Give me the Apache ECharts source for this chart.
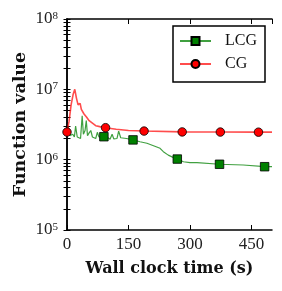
<!DOCTYPE html>
<html>
<head>
<meta charset="utf-8">
<script src="https://cdn.jsdelivr.net/npm/echarts@6/dist/echarts.min.js"></script>
<style>html,body{margin:0;padding:0;background:#fff;}#c{width:282px;height:291px;}</style>
</head>
<body>
<div id="c"></div>
<script>
// ---- data ----
const xTicks = [0, 150, 300, 450];
const yTickExponents = [5, 6, 7, 8];
const minorFactors = [2, 3, 4, 5, 6, 7, 8, 9];

const lcgTime  = [0, 3, 7, 10, 14, 18, 21, 25, 29, 33, 37, 40, 44, 47, 50, 54, 58, 62, 66, 70, 74, 78, 82, 90, 100, 105, 110, 114, 122, 126, 131, 145, 161, 178, 195, 211, 227, 235, 247, 260, 269, 284, 300, 317, 372, 430, 482, 500];
const lcgValue = [2.3e6, 2.9e6, 2.2e6, 2.1e6, 2.3e6, 2.1e6, 3.0e6, 2.1e6, 2.2e6, 2.0e6, 4.2e6, 2.3e6, 2.6e6, 3.6e6, 2.2e6, 2.4e6, 2.6e6, 2.1e6, 2.2e6, 2.0e6, 2.45e6, 2.1e6, 2.2e6, 2.12e6, 2.05e6, 1.95e6, 2.3e6, 1.98e6, 2.0e6, 2.55e6, 2.05e6, 2.0e6, 1.91e6, 1.8e6, 1.71e6, 1.58e6, 1.45e6, 1.3e6, 1.16e6, 1.07e6, 1.02e6, 9.35e5, 9.05e5, 9.05e5, 8.6e5, 8.4e5, 7.94e5, 7.94e5];
const lcgMarkerIdx = [23, 32, 40, 44, 46];

const cgTime  = [0, 5, 10, 15, 19, 23, 27, 30, 32, 35, 41.5, 48, 54, 62, 70, 80, 94, 120, 150, 188, 281, 374, 467, 500];
const cgValue = [2.47e6, 3.5e6, 6.0e6, 8.5e6, 1.0e7, 7.5e6, 6.0e6, 5.8e6, 6.3e6, 5.2e6, 4.46e6, 4.0e6, 3.58e6, 3.3e6, 3.04e6, 2.95e6, 2.85e6, 2.7e6, 2.6e6, 2.55e6, 2.48e6, 2.47e6, 2.46e6, 2.46e6];
const cgMarkerIdx = [0, 16, 19, 20, 21, 22];

// ---- build ----
function build(t, v, marks, sym) {
  return t.map((x, i) => ({ value: [x, v[i]], symbol: marks.indexOf(i) >= 0 ? sym : 'none' }));
}
const eMin = yTickExponents[0], eMax = yTickExponents[yTickExponents.length - 1];
const yMin = Math.pow(10, eMin);
const yMax = Math.pow(10, eMax);
const allTickValues = [];
yTickExponents.forEach((d, i) => {
  allTickValues.push(Math.pow(10, d));
  if (i < yTickExponents.length - 1) minorFactors.forEach(k => allTickValues.push(k * Math.pow(10, d)));
});
const allTickLogs = allTickValues.map(v => Math.log10(v));
const SERIF = 'Liberation Serif';
const axisLineStyle = { color: '#000', width: 1.5 };

const chart = echarts.init(document.getElementById('c'), null, { renderer: 'canvas' });
const xCommon = {
  type: 'value', min: 0, max: 500, interval: 150,
  splitLine: { show: false },
  axisLine: { show: true, onZero: false, lineStyle: axisLineStyle },
  axisTick: { show: true, inside: true, length: 5, lineStyle: { color: '#000', width: 1 } }
};
chart.setOption({
  animation: false,
  backgroundColor: '#fff',
  grid: { left: 67, right: 10, top: 19, bottom: 61, containLabel: false, outerBoundsMode: 'none' },
  xAxis: [
    Object.assign({}, xCommon, {
      position: 'bottom',
      name: 'Wall clock time (s)', nameLocation: 'middle', nameGap: 31, nameMoveOverlap: false,
      nameTextStyle: { fontFamily: 'DejaVu Serif', fontWeight: 'bold', fontSize: 16, color: '#111' },
      axisLabel: {
        margin: 6, fontFamily: SERIF, fontSize: 17, color: '#222', showMaxLabel: false,
        formatter: v => (xTicks.indexOf(v) >= 0 ? String(v) : '')
      }
    }),
    Object.assign({}, xCommon, { position: 'top', axisLabel: { show: false } })
  ],
  yAxis: [
    {
      type: 'log', logBase: 10, min: yMin, max: yMax, position: 'left',
      splitLine: { show: false },
      axisLine: { show: true, lineStyle: axisLineStyle },
      axisTick: { show: true, inside: true, length: 3.5, customValues: allTickValues, lineStyle: { color: '#000', width: 1 } },
      name: 'Function value', nameLocation: 'middle', nameGap: 38, nameMoveOverlap: false,
      nameTextStyle: { fontFamily: 'DejaVu Serif', fontWeight: 'bold', fontSize: 17.5, color: '#111' },
      axisLabel: {
        margin: 9, color: '#222',
        formatter: v => {
          const e = Math.round(Math.log10(v));
          return (Math.abs(Math.log10(v) - e) < 1e-6 && yTickExponents.indexOf(e) >= 0) ? '{b|10}{s|' + e + '}' : '';
        },
        rich: {
          b: { fontFamily: SERIF, fontSize: 17, lineHeight: 17, padding: [9, 0, 9, 0], color: '#222' },
          s: { fontFamily: SERIF, fontSize: 11, lineHeight: 11, verticalAlign: 'top', color: '#222' }
        }
      }
    },
    {
      type: 'value', min: eMin, max: eMax, position: 'right',
      splitLine: { show: false },
      axisLine: { show: true, lineStyle: axisLineStyle },
      axisLabel: { show: false },
      axisTick: { show: true, inside: true, length: 3.5, customValues: allTickLogs, lineStyle: { color: '#000', width: 1 } }
    }
  ],
  legend: {
    left: 173, top: 26, orient: 'vertical',
    backgroundColor: '#fff', borderColor: '#000', borderWidth: 1.5, borderRadius: 0,
    padding: [7, 8, 10, 6], itemGap: 7, itemWidth: 31, itemHeight: 10,
    textStyle: { fontFamily: SERIF, fontSize: 16, color: '#111', lineHeight: 14, padding: [0, 0, 0, 9] },
    data: ['LCG', 'CG']
  },
  series: [
    {
      name: 'LCG', type: 'line', xAxisIndex: 0, yAxisIndex: 0,
      symbol: 'rect', symbolSize: 8.5, showAllSymbol: true,
      lineStyle: { color: 'rgba(0,128,0,0.75)', width: 1.2 },
      itemStyle: { color: '#008000', borderColor: '#000', borderWidth: 0.8 },
      data: build(lcgTime, lcgValue, lcgMarkerIdx, 'rect')
    },
    {
      name: 'CG', type: 'line', xAxisIndex: 0, yAxisIndex: 0,
      symbol: 'circle', symbolSize: 8.5, showAllSymbol: true,
      lineStyle: { color: 'rgba(255,0,0,0.7)', width: 1.6 },
      itemStyle: { color: '#ff0000', borderColor: '#000', borderWidth: 0.8 },
      data: build(cgTime, cgValue, cgMarkerIdx, 'circle')
    }
  ]
});
</script>
</body>
</html>
